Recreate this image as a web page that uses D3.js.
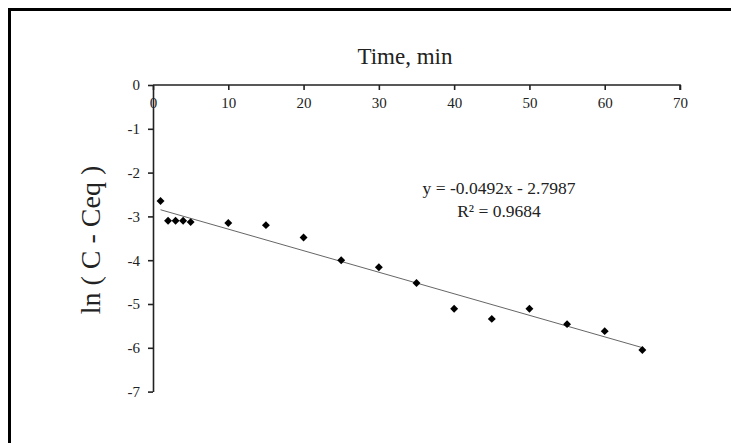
<!DOCTYPE html>
<html>
<head>
<meta charset="utf-8">
<script src="https://cdn.jsdelivr.net/npm/d3@7"></script>
<style>
  body { margin: 0; background: #fff; }
  text { font-family: "Liberation Serif", "Times New Roman", serif; fill: #222; }
</style>
</head>
<body>
<svg id="canvas" width="731" height="443"></svg>
<script>
// readings
let timeMin = [1, 2, 3, 4, 5, 10, 15, 20, 25, 30, 35, 40, 45, 50, 55, 60, 65]
let lnValues = [-2.65, -3.10, -3.10, -3.10, -3.13, -3.15, -3.20, -3.48, -4.00, -4.16, -4.52, -5.11, -5.34, -5.11, -5.46, -5.62, -6.05]
let xTicks = [0, 10, 20, 30, 40, 50, 60, 70]
let yTicks = [0, -1, -2, -3, -4, -5, -6, -7]
let fitSlope = -0.0492
let fitIntercept = -2.7987
let fitLabels = ["y = -0.0492x - 2.7987", "R² = 0.9684"]

let canvas = d3.select("#canvas")

// frame (top and left edges only)
canvas.append("path")
    .attr("d", "M9.5,443 V9.5 H731")
    .attr("fill", "none")
    .attr("stroke", "#000")
    .attr("stroke-width", 3)

let xScale = d3.scaleLinear().domain([0, 70]).range([153, 680])
let yScale = d3.scaleLinear().domain([0, -7]).range([85, 391.6])

// plain hyphen for negatives, like the original
let fmt = (d) => String(d)

// x axis sits on y = 0, ticks point down into the plot
let xAxis = d3.axisBottom(xScale)
    .tickValues(xTicks)
    .tickFormat(fmt)
    .tickSizeInner(5)
    .tickSizeOuter(5)
    .tickPadding(7)

let xg = canvas.append("g")
    .attr("transform", "translate(0," + yScale(0) + ")")
    .call(xAxis)
xg.select(".domain").attr("d", "M" + xScale(0) + ",0H" + xScale(70) + "V5")
xg.selectAll("path, line").attr("stroke", "#222").attr("stroke-width", 1.6)
xg.selectAll("text")
    .attr("font-size", "15px")
    .attr("font-family", "Liberation Serif, serif")
    .attr("fill", "#222")

let yAxis = d3.axisLeft(yScale)
    .tickValues(yTicks)
    .tickFormat(fmt)
    .tickSizeInner(5)
    .tickSizeOuter(0)
    .tickPadding(8)

let yg = canvas.append("g")
    .attr("transform", "translate(" + xScale(0) + ",0)")
    .call(yAxis)
yg.selectAll("path, line").attr("stroke", "#222").attr("stroke-width", 1.6)
yg.selectAll("text")
    .attr("font-size", "15px")
    .attr("font-family", "Liberation Serif, serif")
    .attr("fill", "#222")

// titles
canvas.append("text")
    .attr("x", 405)
    .attr("y", 64)
    .attr("text-anchor", "middle")
    .attr("font-size", "23px")
    .text("Time, min")

canvas.append("text")
    .attr("transform", "translate(100,240) rotate(-90)")
    .attr("text-anchor", "middle")
    .attr("font-size", "28px")
    .text("ln ( C - Ceq )")

// linear trendline from the fitted coefficients
let fitX = [d3.min(timeMin), d3.max(timeMin)]
let line = d3.line()
    .x((d) => xScale(d))
    .y((d) => yScale(fitSlope * d + fitIntercept))

canvas.append("path")
    .datum(fitX)
    .attr("d", line)
    .attr("fill", "none")
    .attr("stroke", "#666")
    .attr("stroke-width", 1)

// points
let diamond = d3.symbol().type(d3.symbolDiamond2).size(40)
canvas.selectAll(".pt")
    .data(timeMin)
    .enter()
    .append("path")
    .attr("class", "pt")
    .attr("d", diamond)
    .attr("transform", (d, i) => "translate(" + xScale(d) + "," + yScale(lnValues[i]) + ")")
    .attr("fill", "#000")

// equation
canvas.selectAll(".eq")
    .data(fitLabels)
    .enter()
    .append("text")
    .attr("class", "eq")
    .attr("x", 499)
    .attr("y", (d, i) => 194 + i * 23)
    .attr("text-anchor", "middle")
    .attr("font-size", "17.5px")
    .text((d) => d)
</script>
</body>
</html>
